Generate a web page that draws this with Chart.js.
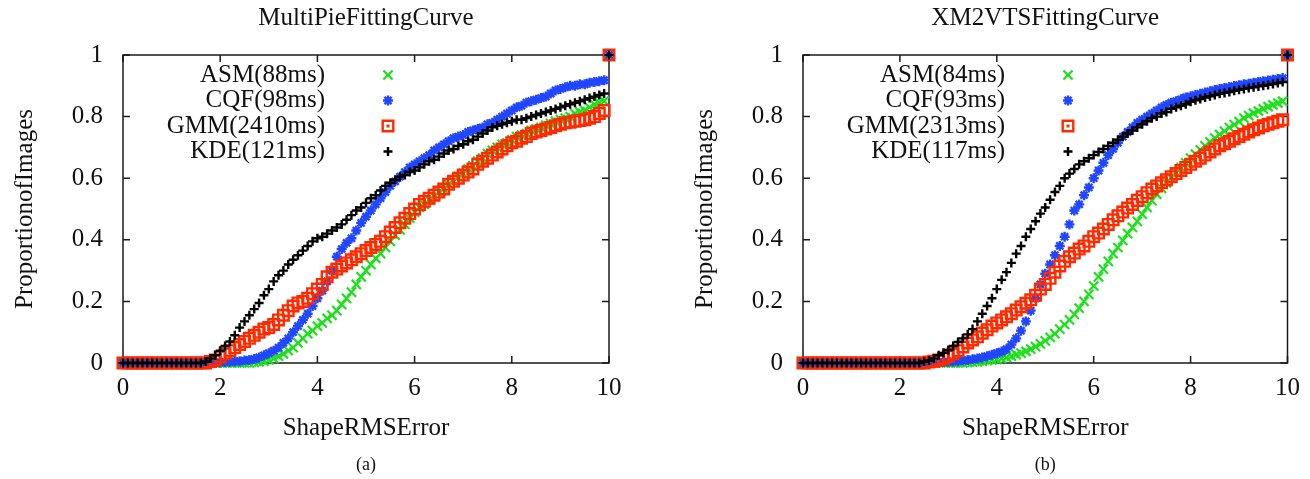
<!DOCTYPE html>
<html>
<head>
<meta charset="utf-8">
<script src="https://cdn.jsdelivr.net/npm/chart.js@4.4.1/dist/chart.umd.min.js"></script>
<style>
  html, body { margin: 0; padding: 0; background: #fff; }
  #wrap { position: relative; width: 1310px; height: 479px; }
  .box { position: absolute; top: 0; width: 655px; height: 479px; }
</style>
</head>
<body>
<div id="wrap">
  <div class="box" style="left:0"><canvas id="mpChart"></canvas></div>
  <div class="box" style="left:655px"><canvas id="xmChart"></canvas></div>
</div>
<script>
// shape RMS error (x), 0..9.9 step 0.1 then the last bin at 10
const errs = [
  0, 0.1, 0.2, 0.3, 0.4, 0.5, 0.6, 0.7, 0.8, 0.9,
  1, 1.1, 1.2, 1.3, 1.4, 1.5, 1.6, 1.7, 1.8, 1.9,
  2, 2.1, 2.2, 2.3, 2.4, 2.5, 2.6, 2.7, 2.8, 2.9,
  3, 3.1, 3.2, 3.3, 3.4, 3.5, 3.6, 3.7, 3.8, 3.9,
  4, 4.1, 4.2, 4.3, 4.4, 4.5, 4.6, 4.7, 4.8, 4.9,
  5, 5.1, 5.2, 5.3, 5.4, 5.5, 5.6, 5.7, 5.8, 5.9,
  6, 6.1, 6.2, 6.3, 6.4, 6.5, 6.6, 6.7, 6.8, 6.9,
  7, 7.1, 7.2, 7.3, 7.4, 7.5, 7.6, 7.7, 7.8, 7.9,
  8, 8.1, 8.2, 8.3, 8.4, 8.5, 8.6, 8.7, 8.8, 8.9,
  9, 9.1, 9.2, 9.3, 9.4, 9.5, 9.6, 9.7, 9.8, 9.9,
  10
];

// MultiPie
const asmMP = [
  0, 0, 0, 0, 0, 0, 0, 0, 0, 0,
  0, 0, 0, 0, 0, 0, 0, 0, 0, 0,
  0, 0, 0, 0, 0, 0, 0, 0.002, 0.004, 0.006,
  0.01, 0.015, 0.022, 0.03, 0.04, 0.05, 0.065, 0.08, 0.095, 0.105,
  0.12, 0.13, 0.145, 0.155, 0.17, 0.19, 0.21, 0.23, 0.255, 0.28,
  0.30, 0.32, 0.34, 0.355, 0.375, 0.395, 0.415, 0.432, 0.45, 0.47,
  0.49, 0.505, 0.515, 0.53, 0.54, 0.555, 0.565, 0.58, 0.59, 0.605,
  0.615, 0.63, 0.64, 0.655, 0.665, 0.68, 0.69, 0.70, 0.71, 0.715,
  0.725, 0.735, 0.74, 0.745, 0.755, 0.76, 0.765, 0.772, 0.778, 0.785,
  0.79, 0.795, 0.80, 0.81, 0.815, 0.82, 0.83, 0.84, 0.845, 0.85,
  1
];
const cqfMP = [
  0, 0, 0, 0, 0, 0, 0, 0, 0, 0,
  0, 0, 0, 0, 0, 0, 0, 0, 0, 0,
  0.002, 0.003, 0.004, 0.005, 0.006, 0.008, 0.01, 0.013, 0.018, 0.025,
  0.032, 0.04, 0.05, 0.065, 0.08, 0.1, 0.12, 0.14, 0.16, 0.185,
  0.21, 0.235, 0.265, 0.30, 0.345, 0.37, 0.39, 0.405, 0.43, 0.455,
  0.475, 0.495, 0.515, 0.535, 0.555, 0.575, 0.59, 0.605, 0.62, 0.635,
  0.645, 0.655, 0.665, 0.675, 0.69, 0.70, 0.71, 0.72, 0.73, 0.735,
  0.74, 0.75, 0.755, 0.76, 0.765, 0.775, 0.78, 0.79, 0.80, 0.81,
  0.82, 0.83, 0.835, 0.845, 0.85, 0.855, 0.86, 0.865, 0.875, 0.885,
  0.89, 0.895, 0.90, 0.90, 0.905, 0.905, 0.91, 0.912, 0.915, 0.918,
  1
];
const gmmMP = [
  0, 0, 0, 0, 0, 0, 0, 0, 0, 0,
  0, 0, 0, 0, 0, 0, 0, 0, 0.005, 0.01,
  0.02, 0.03, 0.04, 0.05, 0.06, 0.07, 0.08, 0.09, 0.10, 0.11,
  0.115, 0.125, 0.14, 0.155, 0.17, 0.185, 0.195, 0.20, 0.21, 0.225,
  0.24, 0.255, 0.28, 0.295, 0.305, 0.315, 0.325, 0.335, 0.345, 0.355,
  0.365, 0.375, 0.385, 0.395, 0.41, 0.425, 0.44, 0.455, 0.47, 0.485,
  0.50, 0.515, 0.525, 0.535, 0.545, 0.555, 0.565, 0.58, 0.59, 0.60,
  0.61, 0.62, 0.63, 0.645, 0.655, 0.665, 0.675, 0.685, 0.695, 0.705,
  0.715, 0.72, 0.73, 0.735, 0.745, 0.75, 0.755, 0.76, 0.765, 0.77,
  0.775, 0.78, 0.782, 0.785, 0.787, 0.79, 0.795, 0.80, 0.81, 0.82,
  1
];
const kdeMP = [
  0, 0, 0, 0, 0, 0, 0, 0, 0, 0,
  0, 0, 0, 0, 0, 0, 0, 0.005, 0.015, 0.025,
  0.04, 0.055, 0.07, 0.09, 0.115, 0.135, 0.155, 0.175, 0.195, 0.22,
  0.24, 0.265, 0.285, 0.30, 0.32, 0.335, 0.35, 0.365, 0.38, 0.395,
  0.405, 0.41, 0.42, 0.43, 0.44, 0.45, 0.465, 0.48, 0.495, 0.505,
  0.52, 0.535, 0.545, 0.56, 0.575, 0.585, 0.595, 0.605, 0.61, 0.62,
  0.625, 0.635, 0.645, 0.655, 0.66, 0.67, 0.68, 0.69, 0.695, 0.705,
  0.71, 0.72, 0.725, 0.735, 0.745, 0.755, 0.765, 0.77, 0.775, 0.78,
  0.785, 0.79, 0.79, 0.795, 0.80, 0.805, 0.81, 0.815, 0.82, 0.825,
  0.83, 0.835, 0.84, 0.845, 0.85, 0.855, 0.86, 0.865, 0.87, 0.875,
  1
];

// XM2VTS
const asmXM = [
  0, 0, 0, 0, 0, 0, 0, 0, 0, 0,
  0, 0, 0, 0, 0, 0, 0, 0, 0, 0,
  0, 0, 0, 0, 0, 0, 0, 0, 0, 0,
  0, 0, 0, 0, 0.002, 0.003, 0.004, 0.006, 0.008, 0.01,
  0.012, 0.015, 0.018, 0.022, 0.027, 0.032, 0.038, 0.045, 0.053, 0.062,
  0.072, 0.083, 0.095, 0.11, 0.125, 0.14, 0.158, 0.178, 0.20, 0.223,
  0.25, 0.28, 0.305, 0.33, 0.355, 0.375, 0.398, 0.42, 0.44, 0.46,
  0.483, 0.505, 0.527, 0.548, 0.567, 0.585, 0.602, 0.618, 0.634, 0.65,
  0.665, 0.678, 0.692, 0.705, 0.718, 0.73, 0.742, 0.753, 0.764, 0.774,
  0.784, 0.795, 0.803, 0.811, 0.818, 0.825, 0.832, 0.838, 0.844, 0.85,
  1
];
const cqfXM = [
  0, 0, 0, 0, 0, 0, 0, 0, 0, 0,
  0, 0, 0, 0, 0, 0, 0, 0, 0, 0,
  0, 0, 0, 0, 0, 0, 0, 0, 0.002, 0.003,
  0.004, 0.005, 0.006, 0.008, 0.01, 0.012, 0.015, 0.018, 0.022, 0.027,
  0.032, 0.037, 0.045, 0.06, 0.08, 0.105, 0.135, 0.17, 0.21, 0.255,
  0.29, 0.32, 0.35, 0.38, 0.41, 0.45, 0.495, 0.515, 0.545, 0.57,
  0.60, 0.625, 0.65, 0.675, 0.695, 0.715, 0.735, 0.75, 0.765, 0.78,
  0.79, 0.80, 0.81, 0.82, 0.83, 0.838, 0.845, 0.85, 0.856, 0.862,
  0.866, 0.87, 0.874, 0.878, 0.882, 0.886, 0.89, 0.893, 0.896, 0.899,
  0.902, 0.905, 0.907, 0.91, 0.912, 0.915, 0.917, 0.92, 0.922, 0.925,
  1
];
const gmmXM = [
  0, 0, 0, 0, 0, 0, 0, 0, 0, 0,
  0, 0, 0, 0, 0, 0, 0, 0, 0, 0,
  0, 0, 0, 0, 0, 0, 0.003, 0.006, 0.01, 0.015,
  0.022, 0.03, 0.04, 0.052, 0.065, 0.075, 0.085, 0.097, 0.108, 0.12,
  0.13, 0.14, 0.15, 0.16, 0.172, 0.183, 0.194, 0.205, 0.22, 0.24,
  0.255, 0.275, 0.295, 0.315, 0.33, 0.345, 0.357, 0.37, 0.38, 0.395,
  0.41, 0.422, 0.435, 0.45, 0.465, 0.478, 0.49, 0.503, 0.515, 0.528,
  0.54, 0.553, 0.565, 0.575, 0.585, 0.595, 0.605, 0.615, 0.625, 0.635,
  0.645, 0.655, 0.665, 0.675, 0.685, 0.695, 0.705, 0.712, 0.72, 0.728,
  0.735, 0.743, 0.75, 0.757, 0.763, 0.77, 0.775, 0.78, 0.785, 0.79,
  1
];
const kdeXM = [
  0, 0, 0, 0, 0, 0, 0, 0, 0, 0,
  0, 0, 0, 0, 0, 0, 0, 0, 0, 0,
  0, 0, 0, 0, 0, 0.005, 0.008, 0.015, 0.025, 0.033,
  0.042, 0.055, 0.068, 0.08, 0.093, 0.11, 0.135, 0.16, 0.185, 0.21,
  0.24, 0.27, 0.295, 0.325, 0.355, 0.38, 0.41, 0.435, 0.46, 0.485,
  0.505, 0.53, 0.555, 0.575, 0.60, 0.615, 0.63, 0.645, 0.655, 0.665,
  0.675, 0.685, 0.695, 0.705, 0.715, 0.725, 0.735, 0.745, 0.755, 0.765,
  0.775, 0.785, 0.795, 0.80, 0.81, 0.815, 0.825, 0.83, 0.835, 0.84,
  0.848, 0.853, 0.857, 0.862, 0.866, 0.87, 0.874, 0.877, 0.88, 0.884,
  0.887, 0.89, 0.893, 0.895, 0.898, 0.90, 0.903, 0.906, 0.909, 0.912,
  1
];

const labelsMP = ["ASM(88ms)", "CQF(98ms)", "GMM(2410ms)", "KDE(121ms)"];
const labelsXM = ["ASM(84ms)", "CQF(93ms)", "GMM(2313ms)", "KDE(117ms)"];
const xTicks = [0, 2, 4, 6, 8, 10];
const yTicks = [0, 0.2, 0.4, 0.6, 0.8, 1];

const FONT = "'Liberation Serif', 'Times New Roman', serif";

const styles = [
    { color: "#1de01d", pointStyle: "crossRot", radius: 6.5, width: 2.2 },
    { color: "#2046ff", pointStyle: "star", radius: 5, width: 2.4 },
    { color: "#ff2a00", pointStyle: "rect", radius: 7.5, width: 2.4 },
    { color: "#000000", pointStyle: "cross", radius: 4.5, width: 2.4 }
];

function drawMarker(ctx, st, x, y) {
    const r = st.radius;
    ctx.strokeStyle = st.color;
    ctx.lineWidth = st.width;
    ctx.beginPath();
    if (st.pointStyle === "rect") {
        const h = r * Math.SQRT1_2;
        ctx.rect(x - h, y - h, 2 * h, 2 * h);
        ctx.stroke();
        ctx.fillStyle = st.color;
        ctx.fillRect(x - 1.5, y - 1.5, 3, 3);
        return;
    }
    const d = r * Math.SQRT1_2;
    if (st.pointStyle === "cross" || st.pointStyle === "star") {
        ctx.moveTo(x - r, y); ctx.lineTo(x + r, y);
        ctx.moveTo(x, y - r); ctx.lineTo(x, y + r);
    }
    if (st.pointStyle === "crossRot" || st.pointStyle === "star") {
        ctx.moveTo(x - d, y - d); ctx.lineTo(x + d, y + d);
        ctx.moveTo(x - d, y + d); ctx.lineTo(x + d, y - d);
    }
    ctx.stroke();
}

// frame with inward ticks on all four sides, like gnuplot
const framePlugin = {
    id: "frame",
    beforeDatasetsDraw(chart) {
        const { ctx, chartArea: a, scales: { x, y } } = chart;
        ctx.save();
        ctx.strokeStyle = "#1a1a1a";
        ctx.lineWidth = 1.5;
        ctx.strokeRect(a.left, a.top, a.right - a.left, a.bottom - a.top);
        ctx.beginPath();
        xTicks.forEach(v => {
            const px = x.getPixelForValue(v);
            ctx.moveTo(px, a.bottom); ctx.lineTo(px, a.bottom - 7);
            ctx.moveTo(px, a.top); ctx.lineTo(px, a.top + 7);
        });
        yTicks.forEach(v => {
            const py = y.getPixelForValue(v);
            ctx.moveTo(a.left, py); ctx.lineTo(a.left + 7, py);
            ctx.moveTo(a.right, py); ctx.lineTo(a.right - 7, py);
        });
        ctx.stroke();
        ctx.restore();
    },
    afterDraw(chart, args, opts) {
        const { ctx, chartArea: a } = chart;
        const cx = (a.left + a.right) / 2;
        ctx.save();
        ctx.fillStyle = "#111";
        ctx.textAlign = "center";
        ctx.textBaseline = "middle";
        ctx.font = "25px " + FONT;
        ctx.fillText(opts.title, cx, 18);
        ctx.font = "18px " + FONT;
        ctx.fillText(opts.caption, cx, 465);

        // key: right-aligned text, sample to its right
        ctx.font = "25px " + FONT;
        ctx.textAlign = "right";
        opts.labels.forEach((t, i) => {
            const ly = a.top + 20 + i * 25.5;
            ctx.fillStyle = "#111";
            ctx.fillText(t, a.left + 202, ly);
            drawMarker(ctx, styles[i], a.left + 265, ly);
        });
        ctx.restore();
    }
};

function makeChart(id, series, labels, title, caption, padLeft, padRight) {
    const datasets = series.map((vals, i) => ({
        label: labels[i],
        data: errs.map((e, k) => ({ x: e, y: vals[k] })),
        showLine: false,
        pointStyle: styles[i].pointStyle,
        pointRadius: styles[i].radius,
        pointBorderWidth: styles[i].width,
        pointBorderColor: styles[i].color,
        pointBackgroundColor: "rgba(0,0,0,0)",
        borderColor: styles[i].color,
        order: 4 - i,
        clip: false
    }));

    return new Chart(document.getElementById(id), {
        type: "scatter",
        data: { datasets },
        plugins: [framePlugin],
        options: {
            responsive: true,
            maintainAspectRatio: false,
            animation: false,
            events: [],
            layout: { padding: { top: 55, right: padRight, bottom: 36, left: padLeft } },
            plugins: {
                legend: { display: false },
                tooltip: { enabled: false },
                frame: { title, caption, labels }
            },
            scales: {
                x: {
                    type: "linear",
                    min: 0,
                    max: 10,
                    afterBuildTicks: s => { s.ticks = xTicks.map(v => ({ value: v })); },
                    afterFit: s => { s.height = 80; },
                    grid: { display: false, drawTicks: false },
                    border: { display: false },
                    ticks: {
                        padding: 10,
                        color: "#111",
                        font: { family: FONT, size: 25 },
                        callback: v => String(v)
                    },
                    title: {
                        display: true,
                        text: "ShapeRMSError",
                        color: "#111",
                        font: { family: FONT, size: 25 },
                        padding: { top: 0, bottom: 0 }
                    }
                },
                y: {
                    type: "linear",
                    min: 0,
                    max: 1,
                    afterBuildTicks: s => { s.ticks = yTicks.map(v => ({ value: v })); },
                    afterFit: s => { s.width = 123; },
                    grid: { display: false, drawTicks: false },
                    border: { display: false },
                    ticks: {
                        padding: 20,
                        color: "#111",
                        font: { family: FONT, size: 25 },
                        callback: v => String(v)
                    },
                    title: {
                        display: true,
                        text: "ProportionofImages",
                        color: "#111",
                        font: { family: FONT, size: 25 },
                        padding: { top: 10, bottom: 0 }
                    }
                }
            }
        }
    });
}

makeChart("mpChart", [asmMP, cqfMP, gmmMP, kdeMP], labelsMP,
    "MultiPieFittingCurve", "(a)", 0, 46);
makeChart("xmChart", [asmXM, cqfXM, gmmXM, kdeXM], labelsXM,
    "XM2VTSFittingCurve", "(b)", 25, 21);
</script>
</body>
</html>
